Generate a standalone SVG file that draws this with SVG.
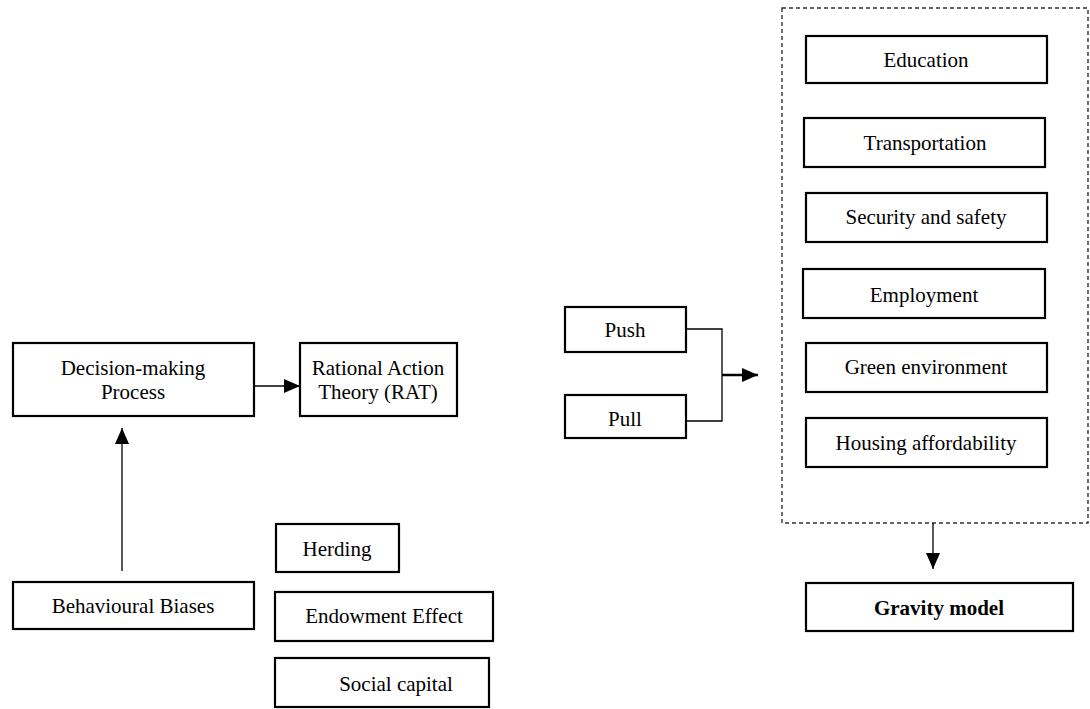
<svg xmlns="http://www.w3.org/2000/svg" width="1090" height="709" viewBox="0 0 1090 709">
<defs>
<style>
.box{fill:#fff;stroke:#000;stroke-width:2.2}
.lbl{font-family:"Liberation Serif","Times New Roman",serif;font-size:21px;fill:#000;text-anchor:middle}
.bold{font-weight:bold}
.con{fill:none;stroke:#000;stroke-width:1.3}
.dash{fill:none;stroke:#333;stroke-width:1.4;stroke-dasharray:4 3}
</style>
<marker id="ahw" markerWidth="16" markerHeight="14" refX="16" refY="7" orient="auto" markerUnits="userSpaceOnUse" viewBox="0 0 16 14">
<path d="M0,0 L16,7 L0,14 Z" fill="#000"/>
</marker>
</defs>
<rect width="1090" height="709" fill="#fff"/>

<g id="group-factors">
<rect class="dash" x="782" y="8" width="306" height="515"/>
</g>

<g id="connectors">
<line class="con" x1="254" y1="386" x2="300" y2="386" marker-end="url(#ahw)"/>
<line class="con" x1="122" y1="571" x2="122" y2="428" marker-end="url(#ahw)"/>
<polyline class="con" points="686,329 722,329 722,421 686,421"/>
<line x1="722" y1="375" x2="758" y2="375" stroke="#000" stroke-width="2.4" marker-end="url(#ahw)"/>
<line class="con" x1="933" y1="523" x2="933" y2="569" marker-end="url(#ahw)"/>
</g>

<g id="decision">
<rect class="box" x="13" y="343" width="241" height="73"/>
<text class="lbl" x="133" y="375">Decision-making</text>
<text class="lbl" x="133" y="399">Process</text>
</g>
<g id="rat">
<rect class="box" x="300" y="343" width="157" height="73"/>
<text class="lbl" x="378" y="375">Rational Action</text>
<text class="lbl" x="378" y="399">Theory (RAT)</text>
</g>
<g id="push">
<rect class="box" x="565" y="307" width="121" height="45"/>
<text class="lbl" x="625" y="337">Push</text>
</g>
<g id="pull">
<rect class="box" x="565" y="395" width="121" height="43"/>
<text class="lbl" x="625" y="426">Pull</text>
</g>
<g id="behavioural">
<rect class="box" x="13" y="582" width="241" height="47"/>
<text class="lbl" x="133" y="613">Behavioural Biases</text>
</g>
<g id="herding">
<rect class="box" x="276" y="524" width="123" height="48"/>
<text class="lbl" x="337" y="556">Herding</text>
</g>
<g id="endowment">
<rect class="box" x="275" y="592" width="218" height="49"/>
<text class="lbl" x="384" y="623">Endowment Effect</text>
</g>
<g id="social">
<rect class="box" x="275" y="658" width="214" height="49"/>
<text class="lbl" x="396" y="691">Social capital</text>
</g>
<g id="education">
<rect class="box" x="806" y="36" width="241" height="47"/>
<text class="lbl" x="926" y="67">Education</text>
</g>
<g id="transportation">
<rect class="box" x="804" y="118" width="241" height="49"/>
<text class="lbl" x="925" y="150">Transportation</text>
</g>
<g id="security">
<rect class="box" x="806" y="193" width="241" height="49"/>
<text class="lbl" x="926" y="224">Security and safety</text>
</g>
<g id="employment">
<rect class="box" x="803" y="269" width="242" height="49"/>
<text class="lbl" x="924" y="302">Employment</text>
</g>
<g id="green">
<rect class="box" x="806" y="343" width="241" height="49"/>
<text class="lbl" x="926" y="374">Green environment</text>
</g>
<g id="housing">
<rect class="box" x="806" y="418" width="241" height="49"/>
<text class="lbl" x="926" y="450">Housing affordability</text>
</g>
<g id="gravity">
<rect class="box" x="806" y="583" width="267" height="48"/>
<text class="lbl bold" x="939" y="615">Gravity model</text>
</g>
</svg>
